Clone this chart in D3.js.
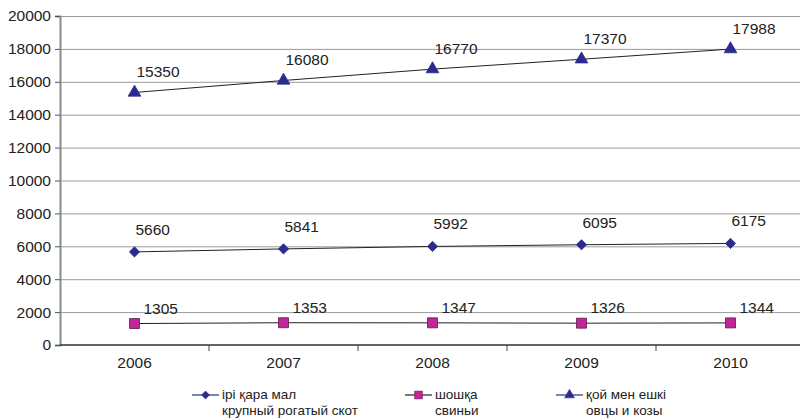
<!DOCTYPE html>
<html><head><meta charset="utf-8">
<script src="https://cdn.jsdelivr.net/npm/d3@7"></script>
<style>body{margin:0;background:#fff;}svg{display:block;font-family:"Liberation Sans",Arial,sans-serif;}</style>
</head><body>
<svg id="c" width="800" height="420"></svg>
<script>
const years = ["2006","2007","2008","2009","2010"];
const cattle = [5660,5841,5992,6095,6175];
const pigs = [1305,1353,1347,1326,1344];
const sheep = [15350,16080,16770,17370,17988];
const yTicks = [0,2000,4000,6000,8000,10000,12000,14000,16000,18000,20000];
const legendLine1 = ["ірі қара мал","шошқа","қой мен ешкі"];
const legendLine2 = ["крупный рогатый скот","свиньи","овцы и козы"];

const series = [
  {values: cattle, shape: d3.symbolSquare, rot: 45, size: 52, fill: "#2b2b8f", stroke: "#2b2b8f", ldx: 1, ldy: -17},
  {values: pigs, shape: d3.symbolSquare, rot: 0, size: 100, fill: "#c0259a", stroke: "#5a1a4a", ldx: 9, ldy: -10},
  {values: sheep, shape: d3.symbolTriangle, rot: 0, size: 70, fill: "#2b2b8f", stroke: "#2b2b8f", ldx: 2, ldy: -15}
];

const svg = d3.select("#c");
const m = {l:60, r:-5, t:16, b:75};
const W = 800, H = 420;
const FS = 15.5;
const x = d3.scaleBand().domain(years).range([m.l, W - m.r]);
const y = d3.scaleLinear().domain([0,20000]).range([H - m.b, m.t]);

// gridlines
svg.append("g").selectAll("line").data(yTicks.filter(t=>t>0)).join("line")
  .attr("x1", m.l).attr("x2", W).attr("y1", d=>y(d)+0.5).attr("y2", d=>y(d)+0.5)
  .attr("stroke", "#9a9a9a").attr("stroke-width", 1);

// y axis
const ya = svg.append("g").attr("transform", `translate(${m.l},0)`)
  .call(d3.axisLeft(y).tickValues(yTicks).tickSize(5).tickPadding(4).tickFormat(d3.format("d")));
ya.select(".domain").attr("stroke", "#8a8a8a").attr("stroke-width", 2);
ya.selectAll(".tick line").attr("stroke", "#555");
ya.selectAll("text").attr("font-size", FS).attr("fill", "#222").attr("font-family", "Liberation Sans, Arial, sans-serif");

// x axis
const xa = svg.append("g").attr("transform", `translate(0,${y(0)})`)
  .call(d3.axisBottom(x).tickSize(0).tickPadding(12));
xa.select(".domain").attr("stroke", "#333").attr("stroke-width", 1.5).attr("d", `M${m.l},0H${W}`);
xa.selectAll("text").attr("font-size", FS).attr("fill", "#222").attr("font-family", "Liberation Sans, Arial, sans-serif");
// boundary ticks
svg.append("g").selectAll("line").data(years.slice(1)).join("line")
  .attr("x1", d=>x(d)).attr("x2", d=>x(d)).attr("y1", y(0)).attr("y2", y(0)+6)
  .attr("stroke", "#444");

const cx = d => x(d) + x.bandwidth()/2;

series.forEach(s => {
  const pts = years.map((yr,i)=>[cx(yr), y(s.values[i])]);
  svg.append("path").attr("d", d3.line()(pts)).attr("fill","none").attr("stroke","#222").attr("stroke-width",1);
  svg.append("g").selectAll("path").data(pts).join("path")
    .attr("d", d3.symbol().type(s.shape).size(s.size))
    .attr("transform", p=>`translate(${p[0]},${p[1]}) rotate(${s.rot})`)
    .attr("fill", s.fill).attr("stroke", s.stroke).attr("stroke-width", 0.8);
  svg.append("g").selectAll("text").data(pts).join("text")
    .attr("x", p=>p[0]+s.ldx).attr("y", p=>p[1]+s.ldy)
    .attr("font-size", FS).attr("fill", "#222")
    .text((p,i)=>s.values[i]);
});

// legend
const lx = [192, 405, 556];
const ly = 395;
series.forEach((s,i) => {
  const g = svg.append("g");
  g.append("line").attr("x1", lx[i]).attr("x2", lx[i]+27).attr("y1", ly).attr("y2", ly)
    .attr("stroke", i===1 ? "#222" : "#2b2b8f").attr("stroke-width", 1.2);
  g.append("path").attr("d", d3.symbol().type(s.shape).size(s.size*0.6))
    .attr("transform", `translate(${lx[i]+13.5},${ly}) rotate(${s.rot})`)
    .attr("fill", s.fill).attr("stroke", s.stroke).attr("stroke-width", 0.6);
  const t = g.append("text").attr("x", lx[i]+30).attr("y", ly+4).attr("font-size", 13.5).attr("fill","#222");
  t.append("tspan").attr("x", lx[i]+30).text(legendLine1[i]);
  t.append("tspan").attr("x", lx[i]+30).attr("dy", 15.5).text(legendLine2[i]);
});
</script>
</body></html>
